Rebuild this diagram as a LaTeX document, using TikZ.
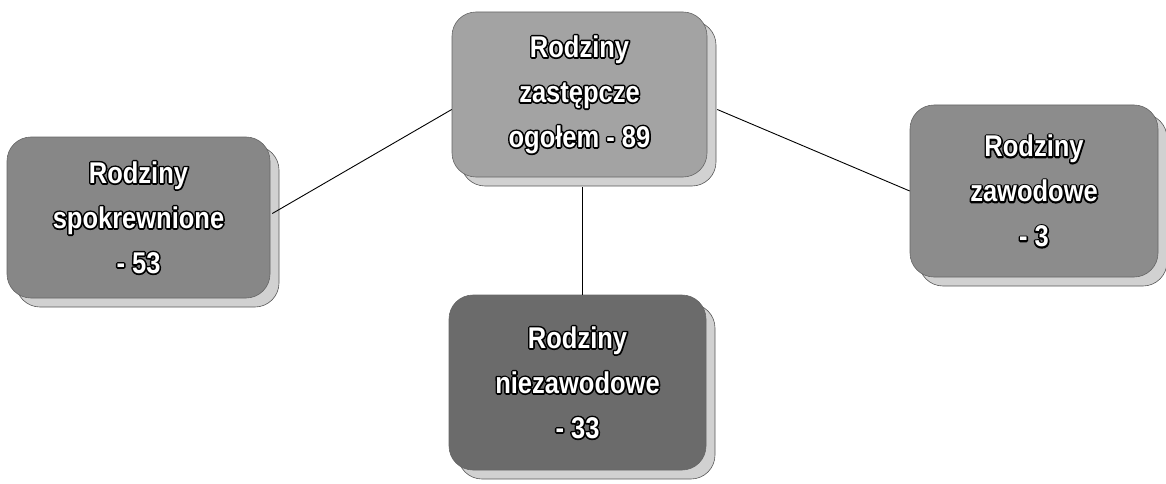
\documentclass[tikz,border=0pt]{standalone}
\usepackage{fontspec}
\setmainfont{Liberation Sans}[FakeStretch=0.85]
\usetikzlibrary{shadows}
\newcommand{\ot}[1]{\rlap{\special{pdf:literal direct 1 Tr 3.2 w 1 j 0 G}#1\special{pdf:literal direct 0 Tr}}#1}
\tikzset{
  box/.style={rounded corners=24pt, draw=black!60, line width=0.6pt, align=center,
    inner sep=0pt, font=\fontsize{30}{45}\selectfont\bfseries, text=white,
    drop shadow={shadow xshift=9pt, shadow yshift=-9pt, fill=black!18, draw=black!65, opacity=1}},
  conn/.style={draw=black, line width=0.9pt}
}
\begin{document}
\begin{tikzpicture}[x=1pt,y=1pt]
\useasboundingbox (0,0) rectangle (1166,483);
\node[box, fill=black!36, minimum width=255pt, minimum height=165pt] (top) at (579.5,388.5)
  {\ot{Rodziny}\\\ot{zastępcze}\\\ot{ogołem - 89}};
\node[box, fill=black!47, minimum width=263pt, minimum height=161pt] (left) at (138.5,265.5)
  {\ot{Rodziny}\\\ot{spokrewnione}\\\ot{- 53}};
\node[box, fill=black!45, minimum width=248pt, minimum height=172pt] (right) at (1034,292)
  {\ot{Rodziny}\\\ot{zawodowe}\\\ot{- 3}};
\node[box, fill=black!58, minimum width=257pt, minimum height=175pt] (bottom) at (577.5,100.5)
  {\ot{Rodziny}\\\ot{niezawodowe}\\\ot{- 33}};
\draw[conn] ([yshift=-15pt]top.west) -- ([xshift=2pt,yshift=4pt]left.east);
\draw[conn] ([xshift=10pt,yshift=-15pt]top.east) -- (right.west);
\draw[conn] ([xshift=3pt,yshift=-10pt]top.south) -- ([xshift=5pt]bottom.north);
\end{tikzpicture}
\end{document}
